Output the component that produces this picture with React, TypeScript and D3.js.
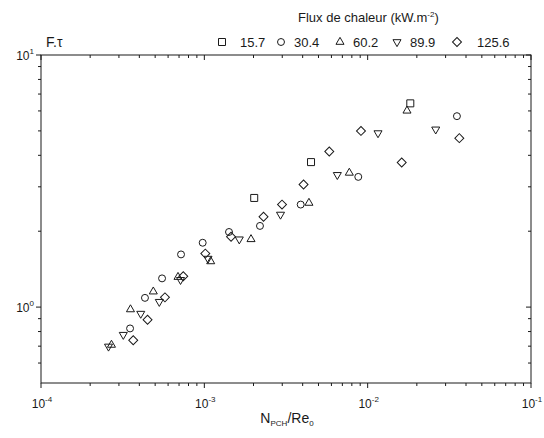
import React from 'react';
import * as d3 from 'd3';

// ---- data ----
const xTickValues = [1e-4, 1e-3, 1e-2, 1e-1];
const xTickExponents = ['-4', '-3', '-2', '-1'];
const yTickValues = [1, 10];
const yTickExponents = ['0', '1'];

const legendLabels = ['15.7', '30.4', '60.2', '89.9', '125.6'];
const legendTitle = 'Flux de chaleur (kW.m';
const legendTitleExp = '-2';
const yLabel = 'F.τ';

const flux157: [number, number][] = [
  [2.02e-3, 2.71], [4.5e-3, 3.76], [1.824e-2, 6.43],
];
const flux304: [number, number][] = [
  [3.51e-4, 0.823], [4.33e-4, 1.088], [5.51e-4, 1.3], [7.2e-4, 1.618], [9.77e-4, 1.8],
  [1.416e-3, 1.986], [2.191e-3, 2.099], [3.89e-3, 2.551], [8.76e-3, 3.285], [3.52e-2, 5.72],
];
const flux602: [number, number][] = [
  [2.7e-4, 0.708], [3.53e-4, 0.979], [4.87e-4, 1.152], [6.9e-4, 1.316], [1.094e-3, 1.518],
  [1.931e-3, 1.858], [4.37e-3, 2.589], [7.72e-3, 3.408], [1.741e-2, 6.01],
];
const flux899: [number, number][] = [
  [2.59e-4, 0.698], [3.19e-4, 0.777], [4.08e-4, 0.942], [5.3e-4, 1.05], [7.15e-4, 1.283],
  [1.053e-3, 1.557], [1.637e-3, 1.858], [2.927e-3, 2.329], [6.52e-3, 3.346], [1.157e-2, 4.9],
  [2.61e-2, 5.07],
];
const flux1256: [number, number][] = [
  [3.67e-4, 0.739], [4.49e-4, 0.891], [5.74e-4, 1.093], [7.43e-4, 1.325], [1.014e-3, 1.63],
  [1.457e-3, 1.901], [2.303e-3, 2.283], [2.99e-3, 2.551], [4.05e-3, 3.063], [5.82e-3, 4.144],
  [9.1e-3, 5.0], [1.616e-2, 3.747], [3.64e-2, 4.68],
];

const seriesData = [flux157, flux304, flux602, flux899, flux1256];

// ---- layout ----
const W = 544, H = 438;
const M = { left: 41, top: 55, right: 13, bottom: 55 };
const INK = '#1a1a1a';
const FONT = 'Liberation Sans, Arial, sans-serif';

const x = d3.scaleLog().domain([1e-4, 1e-1]).range([M.left, W - M.right]);
const y = d3.scaleLog().domain([0.5, 10]).range([H - M.bottom, M.top]);

const symbolDefs = [
  { type: d3.symbolSquare, size: 49, rot: 0 },
  { type: d3.symbolCircle, size: 38, rot: 0 },
  { type: d3.symbolTriangle, size: 28, rot: 0 },
  { type: d3.symbolTriangle, size: 28, rot: 180 },
  { type: d3.symbolSquare, size: 40, rot: 45 },
];
const symbolPaths = symbolDefs.map((s) => d3.symbol().type(s.type).size(s.size)() as string);

function Marker({ i, cx, cy }: { i: number; cx: number; cy: number }) {
  return (
    <path
      d={symbolPaths[i]}
      transform={`translate(${cx},${cy}) rotate(${symbolDefs[i].rot})`}
      fill="none"
      stroke={INK}
      strokeWidth={1}
    />
  );
}

export default function App() {
  const x0 = M.left, x1 = W - M.right, y0 = H - M.bottom, y1 = M.top;
  const xMinor: number[] = [];
  for (let e = -4; e < -1; e++) for (let k = 2; k <= 9; k++) xMinor.push(k * Math.pow(10, e));
  const yMinor: number[] = [0.6, 0.7, 0.8, 0.9, 2, 3, 4, 5, 6, 7, 8, 9];

  const legendSymX = [222, 281, 340, 397, 457];
  const legendTextX = [240, 294, 353, 410, 477];

  return (
    <svg width={W} height={H} style={{ position: 'absolute', left: 0, top: 0 }} fontFamily={FONT}>
      <rect x={0} y={0} width={W} height={H} fill="#fff" />
      {/* frame */}
      <rect x={x0} y={y1} width={x1 - x0} height={y0 - y1} fill="none" stroke={INK} strokeWidth={1} />
      {/* x ticks: bottom outward, top inward */}
      {xTickValues.map((v) => (
        <g key={'xm' + v}>
          <line x1={x(v)} x2={x(v)} y1={y0} y2={y0 + 5} stroke={INK} />
          <line x1={x(v)} x2={x(v)} y1={y1} y2={y1 + 5} stroke={INK} />
        </g>
      ))}
      {xMinor.map((v) => (
        <g key={'xn' + v}>
          <line x1={x(v)} x2={x(v)} y1={y0} y2={y0 + 3} stroke={INK} />
          <line x1={x(v)} x2={x(v)} y1={y1} y2={y1 + 3} stroke={INK} />
        </g>
      ))}
      {/* y ticks: left outward, right inward */}
      {yTickValues.map((v) => (
        <g key={'ym' + v}>
          <line x1={x0 - 5} x2={x0} y1={y(v)} y2={y(v)} stroke={INK} />
          <line x1={x1 - 5} x2={x1} y1={y(v)} y2={y(v)} stroke={INK} />
        </g>
      ))}
      {yMinor.map((v) => (
        <g key={'yn' + v}>
          <line x1={x0 - 3} x2={x0} y1={y(v)} y2={y(v)} stroke={INK} />
          <line x1={x1 - 3} x2={x1} y1={y(v)} y2={y(v)} stroke={INK} />
        </g>
      ))}
      {/* x tick labels */}
      {xTickValues.map((v, i) => (
        <text key={'xl' + v} x={x(v) + 1} y={y0 + 25} textAnchor="middle" fontSize={12} fill={INK}>
          10<tspan dy={-6} fontSize={8}>{xTickExponents[i]}</tspan>
        </text>
      ))}
      {/* y tick labels */}
      {yTickValues.map((v, i) => (
        <text key={'yl' + v} x={x0 - 7} y={y(v) + 4.5} textAnchor="end" fontSize={12} fill={INK}>
          10<tspan dy={-6} fontSize={8}>{yTickExponents[i]}</tspan>
        </text>
      ))}
      {/* axis titles */}
      <text x={287} y={423} textAnchor="middle" fontSize={14} fill={INK}>
        N<tspan dy={3} fontSize={8}>PCH</tspan>
        <tspan dy={-3}>/Re</tspan>
        <tspan dy={3} fontSize={8}>0</tspan>
      </text>
      <text x={46} y={47} fontSize={14} fill={INK}>{yLabel}</text>
      {/* legend */}
      <text x={298} y={22} fontSize={13} fill={INK}>
        {legendTitle}<tspan dy={-5} fontSize={8}>{legendTitleExp}</tspan>
        <tspan dy={5}>)</tspan>
      </text>
      {legendLabels.map((lab, i) => (
        <g key={'lg' + i}>
          <Marker i={i} cx={legendSymX[i]} cy={42} />
          <text x={legendTextX[i]} y={46.5} fontSize={13} fill={INK}>{lab}</text>
        </g>
      ))}
      {/* points */}
      {seriesData.map((pts, i) => (
        <g key={'s' + i}>
          {pts.map(([a, b], j) => (
            <Marker key={j} i={i} cx={x(a)} cy={y(b)} />
          ))}
        </g>
      ))}
    </svg>
  );
}
